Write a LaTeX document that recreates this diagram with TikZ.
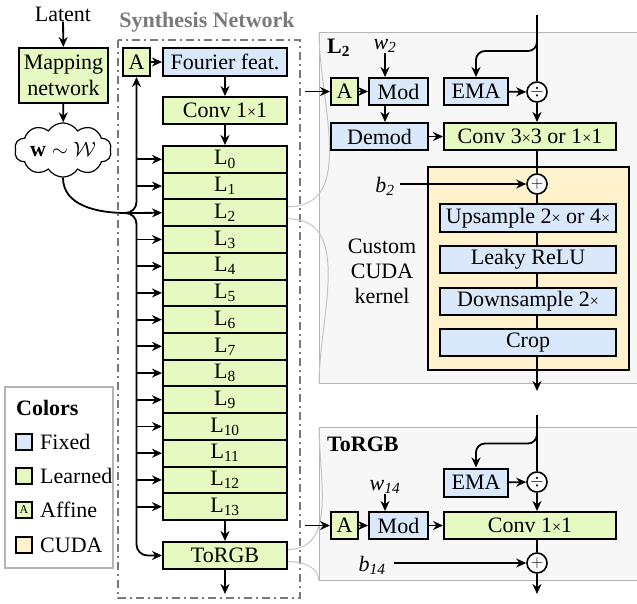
\documentclass[tikz,border=0pt]{standalone}
\usepackage{fontspec}
\setmainfont{Liberation Serif}
\usetikzlibrary{arrows.meta,shapes.symbols}
\definecolor{fixedc}{HTML}{DAE8FC}
\definecolor{learnc}{HTML}{E6F9C0}
\definecolor{cudac}{HTML}{FFF2CC}
\definecolor{panelc}{HTML}{F7F7F7}
\definecolor{panelb}{HTML}{B4B4B4}
\definecolor{zoomc}{HTML}{C4C4C4}
\definecolor{synthc}{HTML}{7A7A7A}
\newcommand{\tms}{{\fontsize{16}{16}\selectfont ×}}

\begin{document}
\begin{tikzpicture}[x=1pt,y=-1pt,
  font=\fontsize{22}{25}\selectfont,
  every node/.style={inner sep=0pt},
  box/.style={draw, line width=2pt, minimum height=27pt},
  fixed/.style={box, fill=fixedc},
  learn/.style={box, fill=learnc},
  op/.style={circle, draw, line width=1.6pt, fill=white, minimum size=20pt, font=\fontsize{18}{18}\selectfont},
  swatch/.style={draw, line width=1.2pt, minimum size=16pt},
  panel/.style={draw=panelb, fill=panelc, line width=1.2pt, anchor=north west},
  arr/.style={line width=1.8pt, -{Stealth[length=10pt,width=9pt]}},
  ln/.style={line width=1.8pt},
  zoom/.style={draw=zoomc, line width=1pt}]
\useasboundingbox (0,0) rectangle (637,603);
\clip (0,0) rectangle (637,603);

% panels on the right
\node[panel, minimum width=330pt, minimum height=351pt] (panelL) at (319,32) {};
\node[panel, minimum width=330pt, minimum height=153pt] (panelT) at (319,427) {};

% mapping part
\node (latent) at (63,14) {Latent};
\node[learn, minimum width=89pt, minimum height=55pt, align=center] (map) at (63.5,75.5) {Mapping\\[1pt]network};
\node[cloud, draw, line width=1.2pt, fill=white, cloud puffs=10, cloud puff arc=115, aspect=2.3,
      minimum width=97pt, minimum height=44pt] (w) at (63,150) {$\mathbf{w}\sim\mathcal{W}$};
\draw[arr] (latent) -- (map);
\draw[arr] (map) -- (w);

% synthesis network
\node[text=synthc] (synlab) at (207,22) {\bfseries Synthesis Network};
\draw[synthc, line width=1.6pt, dash pattern=on 8pt off 4pt on 2pt off 4pt] (118,40) rectangle (300,598);
\node[learn, minimum width=27pt, minimum height=28pt] (A0) at (136.5,62) {A};
\node[fixed, minimum width=124pt, minimum height=28pt] (four) at (225,62) {Fourier feat.};
\node[learn, minimum width=124pt] (conv0) at (225,110.5) {Conv 1\tms1};
\foreach \i in {0,...,13}
  \node[learn, minimum width=124pt, minimum height=26.7pt] (L\i) at (225,{146+26.714*(\i+0.5)}) {L\textsubscript{\i}};
\node[learn, minimum width=124pt] (torgb) at (225,555.5) {ToRGB};
\coordinate (outS) at (225,594);
\coordinate (split) at (126,213);

\draw[zoom] ([yshift=6pt]L2.east) to[out=0,in=-90] (panelL.north west);
\draw[zoom] ([yshift=-6pt]L2.east) to[out=0,in=90] (panelL.south west);
\draw[zoom] ([yshift=6pt]torgb.east) to[out=0,in=-90] (panelT.north west);
\draw[zoom] ([yshift=-6pt]torgb.east) to[out=0,in=90] (panelT.south west);

\draw[arr] (A0) -- (four);
\draw[arr] (four) -- (conv0);
\draw[arr] (conv0) -- (L0);
\draw[arr] (L13) -- (torgb);
\draw[arr] (torgb) -- (outS);
\draw[ln] (w.south) to[out=-90,in=180] (split);
\draw[arr] (split) -- (L2.west);
\draw[arr, rounded corners=11pt] (split) -| (A0.south);
\draw[arr, rounded corners=11pt] (split) -| (A0.south |- torgb.west) -- (torgb.west);
\foreach \i in {0,1,3,4,5,6,7,8,9,10,11,12,13}
  \draw[arr] (A0.south |- L\i.west) -- (L\i.west);

% legend
\node[draw=panelb, line width=1.2pt, fill=white, minimum width=108pt, minimum height=181pt] (legend) at (59,477.5) {};
\node[anchor=west] (colors) at (16,408) {\bfseries Colors};
\node[swatch, fill=fixedc] (sw1) at (24,442) {};
\node[swatch, fill=learnc] (sw2) at (24,476) {};
\node[swatch, fill=learnc, font=\fontsize{12}{12}\selectfont] (sw3) at (24,510) {A};
\node[swatch, fill=cudac] (sw4) at (24,545) {};
\node[anchor=west] (lb1) at (40,442) {Fixed};
\node[anchor=west] (lb2) at (40,476) {Learned};
\node[anchor=west] (lb3) at (40,510) {Affine};
\node[anchor=west] (lb4) at (40,545) {CUDA};

% layer L2
\node[anchor=west] (tL) at (327,48) {\bfseries L\textsubscript{2}};
\node (w2) at (385,46) {\textit{w}\textsubscript{\textit{2}}};
\node[learn, minimum width=27pt] (A1) at (344.5,91.5) {A};
\node[fixed, minimum width=59pt] (mod1) at (398.5,91.5) {Mod};
\node[fixed, minimum width=64pt] (ema1) at (476,91.5) {EMA};
\node[op] (div1) at (537,92) {$\div$};
\node[fixed, minimum width=97pt] (demod) at (379.5,136.5) {Demod};
\node[learn, minimum width=172pt] (conv1) at (530,136.5) {Conv 3\tms3 or 1\tms1};
\node[draw, line width=2pt, fill=cudac, minimum width=201pt, minimum height=203pt] (cuda) at (528.5,268.5) {};
\node[op] (add1) at (537,184) {$+$};
\node (b2) at (385,186) {\textit{b}\textsubscript{\textit{2}}};
\node[fixed, minimum width=176pt, minimum height=28pt] (up) at (528,218) {Upsample 2\tms{} or 4\tms};
\node[fixed, minimum width=176pt] (relu) at (528,259.5) {Leaky ReLU};
\node[fixed, minimum width=176pt] (down) at (528,301) {Downsample 2\tms};
\node[fixed, minimum width=176pt] (crop) at (528,342.5) {Crop};
\node[align=center] (ctext) at (382,271) {Custom\\CUDA\\kernel};
\coordinate (inL) at (305,91.5);
\coordinate (topL) at (537,15);
\coordinate (forkL) at (537,34);
\coordinate (outL) at (537,391);

\draw[ln] (topL) -- (div1.north);
\draw[arr, rounded corners=9pt] (forkL) |- ([yshift=26pt]ema1.north) -- (ema1.north);
\draw[arr] (inL) -- (A1.west);
\draw[arr] (A1) -- (mod1);
\draw[arr] (w2.south) -- (w2 |- mod1.north);
\draw[arr] (w2 |- mod1.south) -- (w2 |- demod.north);
\draw[arr] (ema1) -- (div1);
\draw[arr] (div1.south) -- (div1 |- conv1.north);
\draw[arr] (demod) -- (conv1);
\draw[ln] (add1 |- conv1.south) -- (add1.north);
\draw[arr] ([xshift=5pt]b2.east |- add1) -- (add1.west);
\draw[ln] (add1.south) -- (add1 |- up.north);
\draw[ln] (add1 |- up.south) -- (add1 |- relu.north);
\draw[ln] (add1 |- relu.south) -- (add1 |- down.north);
\draw[ln] (add1 |- down.south) -- (add1 |- crop.north);
\draw[arr] (crop.south -| add1) -- (outL);

% layer ToRGB
\node[anchor=west] (tT) at (327,444) {\bfseries ToRGB};
\node[fixed, minimum width=64pt, minimum height=28pt] (ema2) at (476,482.5) {EMA};
\node[op] (div2) at (537,482) {$\div$};
\node (w14) at (385,487) {\textit{w}\textsubscript{\textit{14}}};
\node[learn, minimum width=27pt] (A2) at (344.5,525.5) {A};
\node[fixed, minimum width=59pt] (mod2) at (398.5,525.5) {Mod};
\node[learn, minimum width=172pt] (conv2) at (530,525.5) {Conv 1\tms1};
\node[op] (add2) at (537,563) {$+$};
\node (b14) at (372,565) {\textit{b}\textsubscript{\textit{14}}};
\coordinate (inT) at (305,525.5);
\coordinate (topT) at (537,415);
\coordinate (forkT) at (537,430);
\coordinate (outT) at (537,594);

\draw[ln] (topT) -- (div2.north);
\draw[arr, rounded corners=9pt] (forkT) |- ([yshift=24pt]ema2.north) -- (ema2.north);
\draw[arr] (ema2) -- (div2);
\draw[arr] (div2.south) -- (div2 |- conv2.north);
\draw[arr] (inT) -- (A2.west);
\draw[arr] (A2) -- (mod2);
\draw[arr] (w14.south) -- (w14 |- mod2.north);
\draw[arr] (mod2) -- (conv2);
\draw[ln] (add2 |- conv2.south) -- (add2.north);
\draw[arr] ([xshift=8pt]b14.east |- add2) -- (add2.west);
\draw[arr] (add2.south) -- (outT);
\end{tikzpicture}
\end{document}
